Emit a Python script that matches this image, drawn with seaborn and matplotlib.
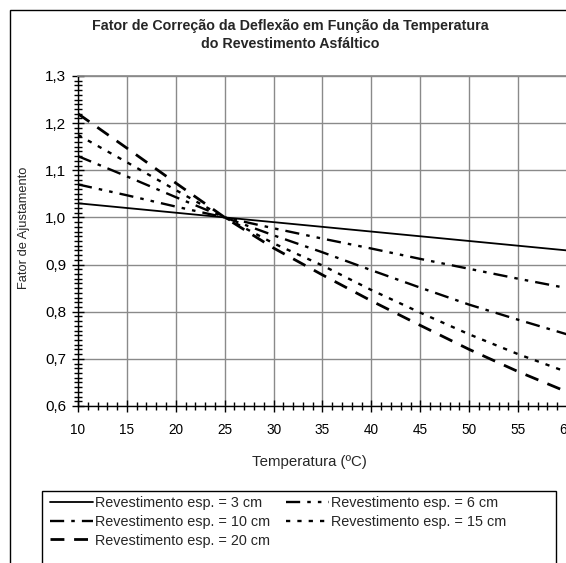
import numpy as np
import pandas as pd
import seaborn as sns
import matplotlib.pyplot as plt
from matplotlib.ticker import MultipleLocator, FuncFormatter
from matplotlib.patches import Rectangle

# dados (fator de ajustamento x temperatura)
temperatura = [10, 15, 20, 25, 30, 35, 40, 45, 50, 55, 60]
esp_3cm = [1.03, 1.02, 1.01, 1.00, 0.99, 0.98, 0.97, 0.96, 0.95, 0.94, 0.93]
esp_6cm = [1.07, 1.047, 1.023, 1.00, 0.977, 0.955, 0.934, 0.912, 0.891, 0.870, 0.850]
esp_10cm = [1.13, 1.087, 1.043, 1.00, 0.962, 0.926, 0.888, 0.851, 0.815, 0.783, 0.752]
esp_15cm = [1.175, 1.117, 1.058, 1.00, 0.945, 0.898, 0.846, 0.798, 0.752, 0.710, 0.672]
esp_20cm = [1.22, 1.147, 1.073, 1.00, 0.935, 0.878, 0.823, 0.771, 0.720, 0.673, 0.630]

rotulos = ['Revestimento esp. = 3 cm', 'Revestimento esp. = 6 cm',
           'Revestimento esp. = 10 cm', 'Revestimento esp. = 15 cm',
           'Revestimento esp. = 20 cm']
series = [esp_3cm, esp_6cm, esp_10cm, esp_15cm, esp_20cm]

# estilo de cada linha (espessura, tracejado)
estilos = [
    (1.3, '-'),
    (1.7, (0, (6, 3, 1.5, 3, 1.5, 3))),
    (1.7, (0, (6, 3, 1.5, 3))),
    (1.7, (0, (1.8, 3))),
    (2.0, (0, (5, 3.5))),
]

sns.set_theme(style='white')
plt.rcParams['font.family'] = ['Liberation Sans', 'DejaVu Sans']

fig = plt.figure(figsize=(5.66, 5.63), dpi=100)
W, H = 566, 563
ax = fig.add_axes([78 / W, 1 - 406 / H, (567 - 78) / W, (406 - 76) / H])

# moldura externa do gráfico
fig.patches.append(Rectangle((10 / W, -0.1), 1.2, 1.1 - 10 / H, transform=fig.transFigure,
                             fill=False, edgecolor='black', linewidth=1.0))
# moldura da legenda (cortada embaixo, como no original)
fig.patches.append(Rectangle((42 / W, -0.1), (556 - 42) / W, 0.1 + 1 - 491 / H,
                             transform=fig.transFigure, fill=False,
                             edgecolor='black', linewidth=1.0))

for valores, rotulo, (lw, ls) in zip(series, rotulos, estilos):
    df = pd.DataFrame({'Temperatura': temperatura, 'Fator': valores})
    sns.lineplot(data=df, x='Temperatura', y='Fator', ax=ax, color='black',
                 linewidth=lw, linestyle=ls, label=rotulo)

ax.set_xlim(10, 60)
ax.set_ylim(0.6, 1.3)
ax.xaxis.set_major_locator(MultipleLocator(5))
ax.xaxis.set_minor_locator(MultipleLocator(1))
ax.yaxis.set_major_locator(MultipleLocator(0.1))
ax.yaxis.set_minor_locator(MultipleLocator(0.01))
ax.yaxis.set_major_formatter(FuncFormatter(lambda v, p: f'{v:.1f}'.replace('.', ',')))
ax.grid(True, which='major', color='#8a8a8a', linewidth=1.0)
ax.tick_params(which='both', direction='inout', bottom=True, left=True, color='black',
               labelcolor='black')
ax.tick_params(which='major', length=9, width=1, pad=4)
ax.tick_params(which='minor', length=6, width=1)
ax.tick_params(axis='x', labelsize=9.8, pad=8)
ax.tick_params(axis='y', labelsize=11)
for lado in ['left', 'bottom']:
    ax.spines[lado].set_color('black')
    ax.spines[lado].set_linewidth(1.0)
ax.spines['top'].set_color('#8a8a8a')
ax.spines['right'].set_visible(False)
ax.set_xlabel('')
ax.set_ylabel('')

fig.text(290 / W, 1 - 26 / H, 'Fator de Correção da Deflexão em Função da Temperatura',
         ha='center', va='center', fontsize=10.25, fontweight='bold')
fig.text(290 / W, 1 - 44 / H, 'do Revestimento Asfáltico',
         ha='center', va='center', fontsize=10.25, fontweight='bold')
fig.text(309 / W, 1 - 462 / H, 'Temperatura (ºC)', ha='center', va='center', fontsize=10.8)
fig.text(24 / W, 1 - 228 / H, 'Fator de Ajustamento', ha='center', va='center',
         rotation=90, fontsize=9.3)

handles, labels = ax.get_legend_handles_labels()
ordem = [0, 2, 4, 1, 3]
ax.legend([handles[i] for i in ordem], [labels[i] for i in ordem], ncol=2,
          loc='upper left', bbox_to_anchor=(50 / W, 1 - 496 / H),
          bbox_transform=fig.transFigure, fontsize=10.4, frameon=False,
          handlelength=3.0, handletextpad=0.1, labelspacing=0.33, borderpad=0,
          columnspacing=1.1, borderaxespad=0)

fig.savefig('out.png', dpi=100)
